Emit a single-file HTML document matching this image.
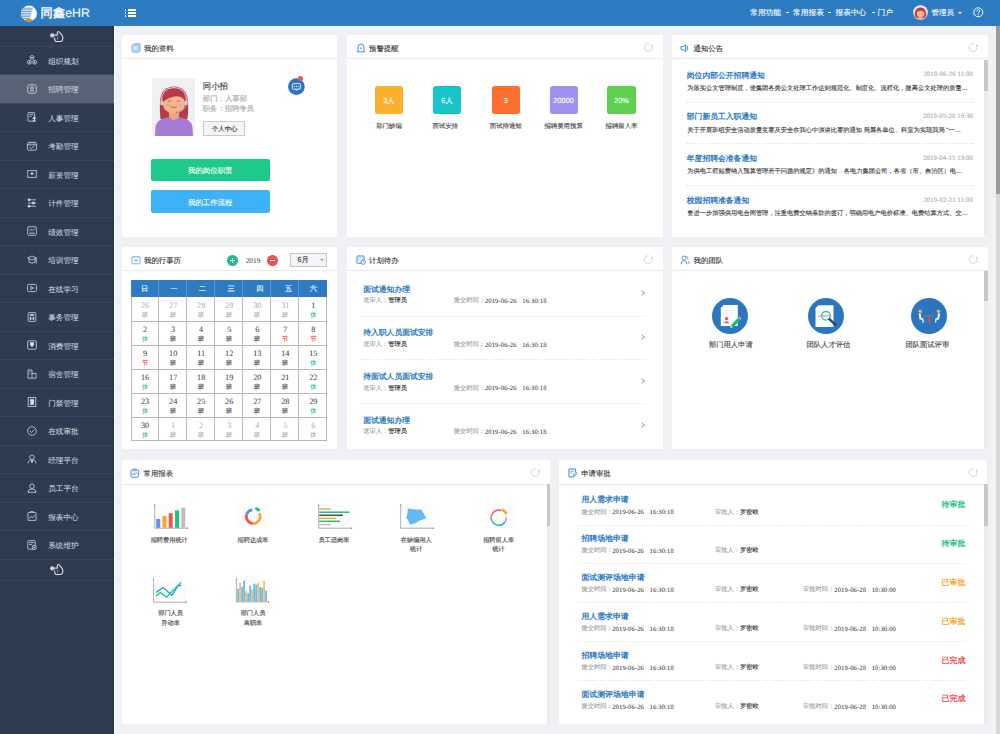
<!DOCTYPE html><html><head><meta charset="utf-8"><style>
*{margin:0;padding:0;box-sizing:border-box}
html,body{width:1000px;height:734px;overflow:hidden;background:#f0f1f5;font-family:"Liberation Sans",sans-serif;color:#333;text-rendering:geometricPrecision}
.a{position:absolute}
.t{position:absolute;white-space:nowrap;line-height:1;-webkit-text-stroke:0.12px currentColor}
.card{position:absolute;background:#fff;border-radius:2px}
.hd{position:absolute;left:0;right:0;top:0;height:24.4px;border-bottom:1px solid #ececec}
.ht{position:absolute;top:10.1px;font-size:7.4px;color:#333;line-height:1;white-space:nowrap;-webkit-text-stroke:0.12px currentColor}
.t i,.ht i{display:inline-block;width:1em;text-align:center;font-style:normal}
.rf{position:absolute;width:7px;height:7px;border:1px solid #cfcfcf;border-radius:50%;border-top-color:transparent;transform:rotate(30deg)}
</style></head><body>
<div class="a" style="left:0;top:0;width:1000px;height:26px;background:#2d7cc1"></div>
<svg class="a" style="left:20px;top:4.6px" width="18" height="18" viewBox="0 0 18 18">
<defs><clipPath id="lgc"><circle cx="9" cy="8.5" r="7.9"/></clipPath></defs>
<circle cx="9" cy="8.5" r="7.9" fill="#fff"/>
<g clip-path="url(#lgc)"><path d="M0 2.4 H13 L10.2 14 H0Z" fill="#fff"/>
<g stroke="#3f88ca" stroke-width="0.85">
<path d="M3 3.2 H12.6"/><path d="M1 4.9 H12.2"/><path d="M0.8 6.6 H11.8"/><path d="M0.8 8.3 H11.4"/><path d="M0.8 10 H11"/><path d="M1 11.7 H10.6"/><path d="M2 13.4 H10.2"/>
</g>
<path d="M13.2 2.2 L10 14.2" stroke="#d9e8f5" stroke-width=".5"/>
</g>
<path d="M4.4 15.3 Q8.7 12.4 13 15.3 Q8.7 17.7 4.4 15.3Z" fill="#f4820f"/>
</svg>
<div class="t" style="left:40.6px;top:6.6px;font-size:12.3px;color:#fff"><span style="-webkit-text-stroke:0.35px #fff"><i>同</i><i>鑫</i></span>eHR</div>
<div class="a" style="left:124.9px;top:9.1px;width:1.6px;height:1.7px;background:#fff"></div>
<div class="a" style="left:128px;top:9.1px;width:7.6px;height:1.7px;background:#fff"></div>
<div class="a" style="left:124.9px;top:12.2px;width:1.6px;height:1.7px;background:#fff"></div>
<div class="a" style="left:128px;top:12.2px;width:7.6px;height:1.7px;background:#fff"></div>
<div class="a" style="left:124.9px;top:15.2px;width:1.6px;height:1.7px;background:#fff"></div>
<div class="a" style="left:128px;top:15.2px;width:7.6px;height:1.7px;background:#fff"></div>
<div class="t" style="left:750.2px;top:8.6px;font-size:7.7px;color:#fff"><i>常</i><i>用</i><i>功</i><i>能</i></div>
<div class="t" style="left:793.1px;top:8.6px;font-size:7.7px;color:#fff"><i>常</i><i>用</i><i>报</i><i>表</i></div>
<div class="t" style="left:835.5px;top:8.6px;font-size:7.7px;color:#fff"><i>报</i><i>表</i><i>中</i><i>心</i></div>
<div class="t" style="left:877.6px;top:8.6px;font-size:7.7px;color:#fff"><i>门</i><i>户</i></div>
<div class="a" style="left:786.2px;top:12.3px;width:3px;height:0.9px;background:#fff"></div>
<div class="a" style="left:828.4px;top:12.3px;width:3px;height:0.9px;background:#fff"></div>
<div class="a" style="left:871.6px;top:12.3px;width:3px;height:0.9px;background:#fff"></div>
<svg class="a" style="left:913.4px;top:5.2px" width="15" height="15" viewBox="0 0 15 15">
<circle cx="7.5" cy="7.5" r="7.3" fill="#f6f2ee"/>
<clipPath id="avc"><circle cx="7.5" cy="7.5" r="6.6"/></clipPath>
<g clip-path="url(#avc)">
<path d="M1.4 13 Q0.8 2.4 7.5 2.2 Q14.2 2.4 13.6 13Z" fill="#bf3f49"/>
<path d="M5.6 11 H9.4 V15 H5.6Z" fill="#f0a27c"/>
<ellipse cx="7.6" cy="8.4" rx="3.9" ry="3.8" fill="#f7b58f"/>
<path d="M3.4 7.4 Q4.4 3.6 7.6 3.7 Q10.8 3.6 11.8 7.4 Q10 5.6 8 5.8 Q5 6 3.4 7.4Z" fill="#bf3f49"/>
<path d="M3 15 Q4 12.8 7.5 12.8 Q11 12.8 12 15Z" fill="#f0a27c"/>
</g></svg>
<div class="t" style="left:931.6px;top:8.6px;font-size:7.4px;color:#fff"><i>管</i><i>理</i><i>员</i></div>
<div class="a" style="left:957.5px;top:11.5px;width:0;height:0;border-left:2.3px solid transparent;border-right:2.3px solid transparent;border-top:2.5px solid #fff"></div>
<svg class="a" style="left:973px;top:7px" width="11" height="11" viewBox="0 0 11 11"><circle cx="5.3" cy="5.3" r="4.5" fill="none" stroke="#fff" stroke-width="1"/><path d="M3.8 4.3 Q3.8 2.8 5.3 2.8 Q6.8 2.8 6.8 4.1 Q6.8 4.9 5.9 5.3 Q5.3 5.6 5.3 6.4" fill="none" stroke="#fff" stroke-width="0.95"/><circle cx="5.3" cy="7.7" r="0.6" fill="#fff"/></svg>
<div class="a" style="left:0;top:26px;width:113.6px;height:708px;background:#2e3c50;border-right:1px solid #1f2c3e"></div>
<div class="a" style="left:113.6px;top:26px;width:1.4px;height:708px;background:#fff"></div>
<div class="a" style="left:0;top:46px;width:113.6px;height:1px;background:#37485e"></div>
<svg class="a" style="left:48.0px;top:29.0px" width="17" height="15" viewBox="0 0 17 15">
<circle cx="4.2" cy="6.4" r="2.1" fill="#cfd4da"/>
<path d="M5.6 6.1 H9.4" stroke="#dfe3e8" stroke-width="1.1"/>
<path d="M9.3 6.2 L9.3 3.6 Q9.7 2 11.1 2.9 L14.3 6.7 Q15.3 8.7 14.5 11 Q14.1 12.4 12.7 12.4 L8.1 12.4 Q7.1 12.4 6.9 11.2 L6.5 8.4" fill="none" stroke="#dfe3e8" stroke-width="1.05" stroke-linejoin="round"/>
<path d="M9.6 7.4 V11" stroke="#aab2bd" stroke-width=".7"/>
</svg>
<div class="a" style="left:0;top:74px;width:113.6px;height:1px;background:#37485e"></div>
<div class="t" style="left:48.2px;top:57.75px;font-size:7.6px;color:#dde1e7;-webkit-text-stroke:0"><i>组</i><i>织</i><i>规</i><i>划</i></div>
<svg class="a" style="left:27px;top:55.45px" width="10" height="10" viewBox="0 0 10 10" fill="none" stroke="#d5dae1" stroke-width="0.8"><rect x="3.2" y="0.6" width="3.6" height="3.6" rx="1.2"/><rect x="0.6" y="5.4" width="3.6" height="3.6" rx="1.2"/><rect x="5.8" y="5.4" width="3.6" height="3.6" rx="1.2"/><circle cx="5" cy="2.4" r=".5" fill="#dfe3e9"/><circle cx="2.4" cy="7.2" r=".5" fill="#dfe3e9"/><circle cx="7.6" cy="7.2" r=".5" fill="#dfe3e9"/></svg>
<div class="a" style="left:0;top:74.90px;width:113.6px;height:28.5px;background:#586475"></div>
<div class="a" style="left:0;top:103px;width:113.6px;height:1px;background:#37485e"></div>
<div class="t" style="left:48.2px;top:86.25px;font-size:7.6px;color:#dde1e7;-webkit-text-stroke:0"><i>招</i><i>聘</i><i>管</i><i>理</i></div>
<svg class="a" style="left:27px;top:83.95px" width="10" height="10" viewBox="0 0 10 10" fill="none" stroke="#d5dae1" stroke-width="0.8"><rect x="0.7" y="0.7" width="8.6" height="8.6" rx="2"/><circle cx="5" cy="4" r="1.5"/><path d="M2.6 7.6 Q5 5.2 7.4 7.6"/></svg>
<div class="a" style="left:0;top:131px;width:113.6px;height:1px;background:#37485e"></div>
<div class="t" style="left:48.2px;top:114.75px;font-size:7.6px;color:#dde1e7;-webkit-text-stroke:0"><i>人</i><i>事</i><i>管</i><i>理</i></div>
<svg class="a" style="left:27px;top:112.45px" width="10" height="10" viewBox="0 0 10 10" fill="none" stroke="#d5dae1" stroke-width="0.8"><rect x="1" y="0.6" width="6.6" height="8.6" rx=".6"/><path d="M2.6 2.6h3.4M2.6 4.4h2"/><circle cx="7.2" cy="6.2" r="1.1" fill="#dfe3e9"/><path d="M5.6 9.2 Q7.2 7 8.8 9.2" fill="#dfe3e9"/></svg>
<div class="a" style="left:0;top:160px;width:113.6px;height:1px;background:#37485e"></div>
<div class="t" style="left:48.2px;top:143.25px;font-size:7.6px;color:#dde1e7;-webkit-text-stroke:0"><i>考</i><i>勤</i><i>管</i><i>理</i></div>
<svg class="a" style="left:27px;top:140.95px" width="10" height="10" viewBox="0 0 10 10" fill="none" stroke="#d5dae1" stroke-width="0.8"><rect x="0.6" y="1.6" width="8.8" height="7.6" rx=".8"/><path d="M3 0.4v2.2M7 0.4v2.2M0.6 3.8h8.8M2.8 6.2 L4.4 7.6 L7.2 4.8"/></svg>
<div class="a" style="left:0;top:188px;width:113.6px;height:1px;background:#37485e"></div>
<div class="t" style="left:48.2px;top:171.75px;font-size:7.6px;color:#dde1e7;-webkit-text-stroke:0"><i>薪</i><i>资</i><i>管</i><i>理</i></div>
<svg class="a" style="left:27px;top:169.45px" width="10" height="10" viewBox="0 0 10 10" fill="none" stroke="#d5dae1" stroke-width="0.8"><path d="M0.6 1.6 H9.4 V3.8 Q8.4 5 9.4 6.2 V8.4 H0.6 V6.2 Q1.6 5 0.6 3.8 Z"/><path d="M3.8 4 L5 6 L6.2 4 Z" fill="#dfe3e9"/></svg>
<div class="a" style="left:0;top:217px;width:113.6px;height:1px;background:#37485e"></div>
<div class="t" style="left:48.2px;top:200.25px;font-size:7.6px;color:#dde1e7;-webkit-text-stroke:0"><i>计</i><i>件</i><i>管</i><i>理</i></div>
<svg class="a" style="left:27px;top:197.95px" width="10" height="10" viewBox="0 0 10 10" fill="none" stroke="#d5dae1" stroke-width="0.8"><path d="M1 1.8h8M1 5h8M1 8.2h8"/><circle cx="2" cy="1.8" r="1" fill="#dfe3e9"/><circle cx="6.4" cy="5" r="1" fill="#dfe3e9"/><circle cx="2" cy="8.2" r="1" fill="#dfe3e9"/></svg>
<div class="a" style="left:0;top:245px;width:113.6px;height:1px;background:#37485e"></div>
<div class="t" style="left:48.2px;top:228.75px;font-size:7.6px;color:#dde1e7;-webkit-text-stroke:0"><i>绩</i><i>效</i><i>管</i><i>理</i></div>
<svg class="a" style="left:27px;top:226.45px" width="10" height="10" viewBox="0 0 10 10" fill="none" stroke="#d5dae1" stroke-width="0.8"><rect x="0.7" y="0.7" width="8.6" height="8.6" rx="1.4"/><path d="M2.4 5 L4 3.4 L5.4 4.6 L7.6 2.6M2.4 7.2h5.2"/></svg>
<div class="a" style="left:0;top:274px;width:113.6px;height:1px;background:#37485e"></div>
<div class="t" style="left:48.2px;top:257.25px;font-size:7.6px;color:#dde1e7;-webkit-text-stroke:0"><i>培</i><i>训</i><i>管</i><i>理</i></div>
<svg class="a" style="left:27px;top:254.95px" width="10" height="10" viewBox="0 0 10 10" fill="none" stroke="#d5dae1" stroke-width="0.8"><path d="M0.5 3 L5 1 L9.5 3 L5 5 Z"/><path d="M2 3.8 V7 Q5 9.4 8 7 V3.8"/><path d="M9.2 3.2 V8.6" stroke-width="0.8"/></svg>
<div class="a" style="left:0;top:302px;width:113.6px;height:1px;background:#37485e"></div>
<div class="t" style="left:48.2px;top:285.75px;font-size:7.6px;color:#dde1e7;-webkit-text-stroke:0"><i>在</i><i>线</i><i>学</i><i>习</i></div>
<svg class="a" style="left:27px;top:283.45px" width="10" height="10" viewBox="0 0 10 10" fill="none" stroke="#d5dae1" stroke-width="0.8"><rect x="0.6" y="1.4" width="8.8" height="7.2" rx="1"/><path d="M3.8 3.4 L6.6 5 L3.8 6.6 Z"/></svg>
<div class="a" style="left:0;top:331px;width:113.6px;height:1px;background:#37485e"></div>
<div class="t" style="left:48.2px;top:314.25px;font-size:7.6px;color:#dde1e7;-webkit-text-stroke:0"><i>事</i><i>务</i><i>管</i><i>理</i></div>
<svg class="a" style="left:27px;top:311.95px" width="10" height="10" viewBox="0 0 10 10" fill="none" stroke="#d5dae1" stroke-width="0.8"><rect x="1.2" y="0.6" width="7.6" height="8.8" rx=".8"/><rect x="2.8" y="2.2" width="4.4" height="1.6" fill="#dfe3e9" stroke="none"/><rect x="2.8" y="5" width="1.6" height="2.8" fill="#dfe3e9" stroke="none"/><rect x="5.6" y="5" width="1.6" height="2.8" fill="#dfe3e9" stroke="none"/></svg>
<div class="a" style="left:0;top:359px;width:113.6px;height:1px;background:#37485e"></div>
<div class="t" style="left:48.2px;top:342.75px;font-size:7.6px;color:#dde1e7;-webkit-text-stroke:0"><i>消</i><i>费</i><i>管</i><i>理</i></div>
<svg class="a" style="left:27px;top:340.45px" width="10" height="10" viewBox="0 0 10 10" fill="none" stroke="#d5dae1" stroke-width="0.8"><rect x="0.7" y="0.8" width="8.6" height="8.4" rx=".8"/><path d="M3.4 2.6 H6.6 V5 L5 6.8 L3.4 5 Z" fill="#dfe3e9"/></svg>
<div class="a" style="left:0;top:388px;width:113.6px;height:1px;background:#37485e"></div>
<div class="t" style="left:48.2px;top:371.25px;font-size:7.6px;color:#dde1e7;-webkit-text-stroke:0"><i>宿</i><i>舍</i><i>管</i><i>理</i></div>
<svg class="a" style="left:27px;top:368.95px" width="10" height="10" viewBox="0 0 10 10" fill="none" stroke="#d5dae1" stroke-width="0.8"><path d="M1 9.2 V1 H5 V9.2 M5 4.4 H9 V9.2 H1"/><path d="M2.4 2.8h1.2M2.4 4.8h1.2"/></svg>
<div class="a" style="left:0;top:416px;width:113.6px;height:1px;background:#37485e"></div>
<div class="t" style="left:48.2px;top:399.75px;font-size:7.6px;color:#dde1e7;-webkit-text-stroke:0"><i>门</i><i>禁</i><i>管</i><i>理</i></div>
<svg class="a" style="left:27px;top:397.45px" width="10" height="10" viewBox="0 0 10 10" fill="none" stroke="#d5dae1" stroke-width="0.8"><rect x="1.2" y="0.6" width="7.6" height="8.8"/><path d="M3.4 2.4 H6.6 V7.6 H3.4 V5.8 L4.6 5 L3.4 4.2 Z" fill="#dfe3e9"/></svg>
<div class="a" style="left:0;top:445px;width:113.6px;height:1px;background:#37485e"></div>
<div class="t" style="left:48.2px;top:428.25px;font-size:7.6px;color:#dde1e7;-webkit-text-stroke:0"><i>在</i><i>线</i><i>审</i><i>批</i></div>
<svg class="a" style="left:27px;top:425.95px" width="10" height="10" viewBox="0 0 10 10" fill="none" stroke="#d5dae1" stroke-width="0.8"><circle cx="5" cy="5" r="4.3"/><path d="M3 5 L4.5 6.5 L7.2 3.6"/></svg>
<div class="a" style="left:0;top:473px;width:113.6px;height:1px;background:#37485e"></div>
<div class="t" style="left:48.2px;top:456.75px;font-size:7.6px;color:#dde1e7;-webkit-text-stroke:0"><i>经</i><i>理</i><i>平</i><i>台</i></div>
<svg class="a" style="left:27px;top:454.45px" width="10" height="10" viewBox="0 0 10 10" fill="none" stroke="#d5dae1" stroke-width="0.8"><circle cx="5" cy="3.2" r="2.3"/><path d="M0.8 9.4 Q1.4 5.8 4 5.6 M9.2 9.4 Q8.6 5.8 6 5.6"/><path d="M4.4 6.4 L5 9 L5.6 6.4 Z" fill="#dfe3e9"/></svg>
<div class="a" style="left:0;top:502px;width:113.6px;height:1px;background:#37485e"></div>
<div class="t" style="left:48.2px;top:485.25px;font-size:7.6px;color:#dde1e7;-webkit-text-stroke:0"><i>员</i><i>工</i><i>平</i><i>台</i></div>
<svg class="a" style="left:27px;top:482.95px" width="10" height="10" viewBox="0 0 10 10" fill="none" stroke="#d5dae1" stroke-width="0.8"><circle cx="5" cy="3.2" r="2.3"/><path d="M1 9.3 Q1 5.8 5 5.8 Q9 5.8 9 9.3 Z"/></svg>
<div class="a" style="left:0;top:530px;width:113.6px;height:1px;background:#37485e"></div>
<div class="t" style="left:48.2px;top:513.75px;font-size:7.6px;color:#dde1e7;-webkit-text-stroke:0"><i>报</i><i>表</i><i>中</i><i>心</i></div>
<svg class="a" style="left:27px;top:511.45px" width="10" height="10" viewBox="0 0 10 10" fill="none" stroke="#d5dae1" stroke-width="0.8"><rect x="1" y="1.4" width="8" height="8" rx=".8"/><path d="M3.4 1.4 V0.6 H6.6 V1.4"/><path d="M2.4 7.6 L4.2 5.4 L5.6 6.6 L7.8 4"/></svg>
<div class="a" style="left:0;top:559px;width:113.6px;height:1px;background:#37485e"></div>
<div class="t" style="left:48.2px;top:542.25px;font-size:7.6px;color:#dde1e7;-webkit-text-stroke:0"><i>系</i><i>统</i><i>维</i><i>护</i></div>
<svg class="a" style="left:27px;top:539.95px" width="10" height="10" viewBox="0 0 10 10" fill="none" stroke="#d5dae1" stroke-width="0.8"><rect x="0.8" y="0.6" width="7.4" height="8.6" rx=".8"/><path d="M2.2 2.6h4.6M2.2 4.6h3"/><circle cx="7.2" cy="7.4" r="2.1" fill="#2e3c50"/><circle cx="7.2" cy="7.4" r=".7"/></svg>
<svg class="a" style="left:48.0px;top:562.1px" width="17" height="15" viewBox="0 0 17 15">
<circle cx="4.2" cy="6.4" r="2.1" fill="#cfd4da"/>
<path d="M5.6 6.1 H9.4" stroke="#dfe3e8" stroke-width="1.1"/>
<path d="M9.3 6.2 L9.3 3.6 Q9.7 2 11.1 2.9 L14.3 6.7 Q15.3 8.7 14.5 11 Q14.1 12.4 12.7 12.4 L8.1 12.4 Q7.1 12.4 6.9 11.2 L6.5 8.4" fill="none" stroke="#dfe3e8" stroke-width="1.05" stroke-linejoin="round"/>
<path d="M9.6 7.4 V11" stroke="#aab2bd" stroke-width=".7"/>
</svg>
<div class="a" style="left:0;top:579.80px;width:113.6px;height:1px;background:#37485e"></div>
<div class="card" style="left:122px;top:35px;width:215px;height:202px"><div class="hd"></div><div class="ht" style="left:22px"><i>我</i><i>的</i><i>资</i><i>料</i></div><svg class="a" style="left:8.6px;top:7.6px" width="10" height="10" viewBox="0 0 10 10" fill="none" stroke="#5a9ad6" stroke-width="1"><rect x="1" y="1.6" width="7.4" height="7.6" rx="1" fill="#b9d7f2" stroke="#8cbbe6"/><path d="M2.6 1.6 L3.6 0.6 H9.2 V7.6 L8.4 8.4" stroke="#8cbbe6"/><path d="M3.4 4.2 L5.8 6.4 M3.6 6.8 L3.4 4.2 L6 4.4" stroke="#fff" stroke-width=".8"/></svg></div>
<div class="card" style="left:347px;top:35px;width:315.5px;height:202px"><div class="hd"></div><div class="ht" style="left:22px"><i>预</i><i>警</i><i>提</i><i>醒</i></div><svg class="a" style="left:8.6px;top:7.6px" width="10" height="10" viewBox="0 0 10 10" fill="none" stroke="#5a9ad6" stroke-width="1"><path d="M2 8.6 V4.6 Q2 1 5 1 Q8 1 8 4.6 V8.6" stroke="#4a8fd0"/><path d="M0.8 8.8 H9.2" stroke="#4a8fd0"/><path d="M5 3.6 Q6.2 5.4 5 7 Q3.8 5.4 5 3.6Z" fill="#3b86cc" stroke="none"/></svg><svg class="a" style="left:295.9px;top:7.8px" width="11" height="10" viewBox="0 0 11 10"><path d="M8.58 2.65 A3.9 3.9 0 1 1 5.88 0.76" fill="none" stroke="#d6d6d6" stroke-width="1"/><path d="M7.6 2.3 L9.7 1.4 L9.3 3.7 Z" fill="#c4c4c4"/></svg></div>
<div class="card" style="left:671.5px;top:35px;width:316.0px;height:202px"><div class="hd"></div><div class="ht" style="left:22px"><i>通</i><i>知</i><i>公</i><i>告</i></div><svg class="a" style="left:8.6px;top:7.6px" width="10" height="10" viewBox="0 0 10 10" fill="none" stroke="#5a9ad6" stroke-width="1"><path d="M1 3.6 H3.2 L5.6 1.8 V8.6 L3.2 6.8 H1 Z" stroke="#4a8fd0"/><path d="M7 2.6 Q8.6 5.2 7 7.8 Z" fill="#5aa2e0" stroke="#5aa2e0" stroke-width=".6"/></svg><svg class="a" style="left:296.4px;top:7.8px" width="11" height="10" viewBox="0 0 11 10"><path d="M8.58 2.65 A3.9 3.9 0 1 1 5.88 0.76" fill="none" stroke="#d6d6d6" stroke-width="1"/><path d="M7.6 2.3 L9.7 1.4 L9.3 3.7 Z" fill="#c4c4c4"/></svg></div>
<div class="card" style="left:122px;top:247px;width:215px;height:202px"><div class="hd"></div><div class="ht" style="left:22px"><i>我</i><i>的</i><i>行</i><i>事</i><i>历</i></div><svg class="a" style="left:8.6px;top:7.6px" width="10" height="10" viewBox="0 0 10 10" fill="none" stroke="#5a9ad6" stroke-width="1"><rect x="0.9" y="1.8" width="8.2" height="7" rx="1" stroke="#7fb0e0"/><path d="M2.8 0.8 V2.6 M7.2 0.8 V2.6" stroke="#7fb0e0"/><rect x="2.9" y="4.2" width="4.2" height="2.4" fill="#a8cdee" stroke="none"/></svg></div>
<div class="card" style="left:347px;top:247px;width:315.5px;height:202px"><div class="hd"></div><div class="ht" style="left:22px"><i>计</i><i>划</i><i>待</i><i>办</i></div><svg class="a" style="left:8.6px;top:7.6px" width="10" height="10" viewBox="0 0 10 10" fill="none" stroke="#5a9ad6" stroke-width="1"><rect x="0.9" y="0.9" width="7.2" height="7.6" rx=".8" fill="#d4e7f8" stroke="#5a9ad6"/><path d="M2.2 7.4 L6.4 2.4" stroke="#fff" stroke-width=".9"/><circle cx="7.2" cy="7.2" r="2.2" fill="#fff" stroke="#5a9ad6"/><path d="M7.2 6.1 V7.3 H8" stroke="#5a9ad6" stroke-width=".6"/></svg><svg class="a" style="left:295.9px;top:7.8px" width="11" height="10" viewBox="0 0 11 10"><path d="M8.58 2.65 A3.9 3.9 0 1 1 5.88 0.76" fill="none" stroke="#d6d6d6" stroke-width="1"/><path d="M7.6 2.3 L9.7 1.4 L9.3 3.7 Z" fill="#c4c4c4"/></svg></div>
<div class="card" style="left:671.5px;top:247px;width:316.0px;height:202px"><div class="hd"></div><div class="ht" style="left:22px"><i>我</i><i>的</i><i>团</i><i>队</i></div><svg class="a" style="left:8.6px;top:7.6px" width="10" height="10" viewBox="0 0 10 10" fill="none" stroke="#5a9ad6" stroke-width="1"><circle cx="4" cy="3" r="2" stroke="#5a9ad6"/><path d="M0.8 9.2 Q1 5.6 4 5.6 Q7 5.6 7.2 9.2" stroke="#5a9ad6"/><path d="M6.4 1.4 Q8.4 1.8 7.8 4.4 M8 5.8 Q9.2 6.6 9.3 9" stroke="#5a9ad6" stroke-width=".9"/></svg><svg class="a" style="left:296.4px;top:7.8px" width="11" height="10" viewBox="0 0 11 10"><path d="M8.58 2.65 A3.9 3.9 0 1 1 5.88 0.76" fill="none" stroke="#d6d6d6" stroke-width="1"/><path d="M7.6 2.3 L9.7 1.4 L9.3 3.7 Z" fill="#c4c4c4"/></svg></div>
<div class="card" style="left:121.5px;top:460.3px;width:428.1px;height:263.90000000000003px"><div class="hd"></div><div class="ht" style="left:22px"><i>常</i><i>用</i><i>报</i><i>表</i></div><svg class="a" style="left:8.6px;top:7.6px" width="10" height="10" viewBox="0 0 10 10" fill="none" stroke="#5a9ad6" stroke-width="1"><rect x="1" y="1.8" width="7.6" height="7.6" rx="1" fill="#eaf3fc" stroke="#5a9ad6"/><path d="M3.2 2.4 V1 H6.4 V2.4 Z" fill="#fff" stroke="#5a9ad6"/><path d="M2.6 7 L4 5.4 L5.2 6.4 L6.8 4.6" stroke="#3c7fc4" stroke-width=".8"/></svg><svg class="a" style="left:408.5px;top:7.8px" width="11" height="10" viewBox="0 0 11 10"><path d="M8.58 2.65 A3.9 3.9 0 1 1 5.88 0.76" fill="none" stroke="#d6d6d6" stroke-width="1"/><path d="M7.6 2.3 L9.7 1.4 L9.3 3.7 Z" fill="#c4c4c4"/></svg></div>
<div class="card" style="left:559.2px;top:460.3px;width:428.29999999999995px;height:263.90000000000003px"><div class="hd"></div><div class="ht" style="left:22px"><i>申</i><i>请</i><i>审</i><i>批</i></div><svg class="a" style="left:8.6px;top:7.6px" width="10" height="10" viewBox="0 0 10 10" fill="none" stroke="#5a9ad6" stroke-width="1"><path d="M1 1 H7.6 V4.2 M1 1 V9 H4.2" stroke="#3b86cc"/><path d="M2.6 3.2 H5.8 M2.6 5 H4.2" stroke="#3b86cc" stroke-width=".8"/><path d="M5 9.2 L5.4 6.8 L8.2 4.2 L9.4 5.4 L6.6 8.2 Z" fill="#cfe3f6" stroke="#3b86cc" stroke-width=".8"/></svg><svg class="a" style="left:408.7px;top:7.8px" width="11" height="10" viewBox="0 0 11 10"><path d="M8.58 2.65 A3.9 3.9 0 1 1 5.88 0.76" fill="none" stroke="#d6d6d6" stroke-width="1"/><path d="M7.6 2.3 L9.7 1.4 L9.3 3.7 Z" fill="#c4c4c4"/></svg></div>
<svg class="a" style="left:151.6px;top:78px" width="43.6" height="58" viewBox="0 0 43.6 58">
<rect x="0" y="0" width="43.6" height="58" rx="3" fill="#eef0f4"/>
<path d="M8.5 41 Q6.5 22 10 15 Q14 8.5 22 8.5 Q30 8.5 34 15 Q37.5 22 35.5 41 Z" fill="#b83a4a"/>
<path d="M17 33 L17 42 L22 46 L27 42 L27 33 Z" fill="#f2a47e"/>
<ellipse cx="22" cy="25.7" rx="11" ry="9.8" fill="#f6b48e"/>
<path d="M10.6 24.5 Q11.5 12.5 22 12 Q32.5 12.5 33.4 24 Q31 18.5 25 18.2 Q17 18.4 10.6 24.5Z" fill="#b83a4a"/>
<path d="M9.5 24 Q9 10 22 9.5 Q35 10 34.5 24" fill="none" stroke="#e9e4e4" stroke-width="0.9"/>
<ellipse cx="9.8" cy="25" rx="1.6" ry="2.4" fill="#cfd6d6"/>
<ellipse cx="34.2" cy="25" rx="1.6" ry="2.4" fill="#cfd6d6"/>
<path d="M34 27 Q33 33 25 34.5" fill="none" stroke="#8aa3a6" stroke-width="0.7"/>
<circle cx="24.5" cy="34.5" r="1" fill="#5f9ca3"/>
<path d="M16 23.5 Q17.5 22 19 23.5 M25 23.5 Q26.5 22 28 23.5" fill="none" stroke="#7a4a3a" stroke-width="0.6"/>
<path d="M19 28.5 Q22 31 25 28.5" fill="none" stroke="#a3403a" stroke-width="0.7"/>
<ellipse cx="15.5" cy="27" rx="1.8" ry="1.1" fill="#f29b86" opacity=".7"/>
<ellipse cx="28.5" cy="27" rx="1.8" ry="1.1" fill="#f29b86" opacity=".7"/>
<path d="M3 58 L3.5 49 Q4.5 42 13 40 L17 39 Q22 45 27 39 L31 40 Q39.5 42 40.5 49 L41 58 Z" fill="#a67cd2"/>
</svg>
<div class="t" style="left:202.8px;top:81.8px;font-size:8.4px;color:#333"><i>同</i><i>小</i><i>招</i></div>
<div class="t" style="left:202.8px;top:95.2px;font-size:7.4px;color:#a8a8a8"><i>部</i><i>门</i><i>：</i><i>人</i><i>事</i><i>部</i></div>
<div class="t" style="left:202.8px;top:104.8px;font-size:7.3px;color:#a8a8a8"><i>职</i><i>务</i><i>：</i><i>招</i><i>聘</i><i>专</i><i>员</i></div>
<div class="a" style="left:202.8px;top:121.4px;width:42.4px;height:14.4px;border:1px solid #c9c9c9;background:#f3f4f7"></div>
<div class="t" style="left:211.8px;top:127.3px;font-size:6.45px;color:#222"><i>个</i><i>人</i><i>中</i><i>心</i></div>
<svg class="a" style="left:287px;top:75px" width="18" height="21" viewBox="0 0 18 21">
<circle cx="9.4" cy="11.6" r="8.4" fill="#2a76bf"/>
<rect x="5.4" y="8.6" width="8" height="5.6" rx="1" fill="none" stroke="#fff" stroke-width="0.9"/>
<path d="M8.6 14.2 L9.4 15.4 L10.2 14.2" fill="none" stroke="#fff" stroke-width="0.8"/>
<circle cx="7.6" cy="11.4" r=".55" fill="#fff"/><circle cx="9.4" cy="11.4" r=".55" fill="#fff"/><circle cx="11.2" cy="11.4" r=".55" fill="#fff"/>
<circle cx="13.4" cy="3.6" r="2.6" fill="#f3535a"/>
</svg>
<div class="a" style="left:150.5px;top:158.6px;width:119.5px;height:22.8px;background:#1ec98c;border-radius:2px"></div>
<div class="t" style="left:150.5px;width:119.5px;text-align:center;top:167.4px;font-size:7.4px;color:#fff"><i>我</i><i>的</i><i>岗</i><i>位</i><i>职</i><i>责</i></div>
<div class="a" style="left:150.5px;top:190px;width:119.5px;height:22.7px;background:#3db2f7;border-radius:2px"></div>
<div class="t" style="left:150.5px;width:119.5px;text-align:center;top:198.7px;font-size:7.4px;color:#fff"><i>我</i><i>的</i><i>工</i><i>作</i><i>流</i><i>程</i></div>
<div class="a" style="left:374.9px;top:86.4px;width:28.2px;height:28px;background:#fbb02d;border-radius:2.5px"></div>
<div class="t" style="left:364.9px;width:48.2px;text-align:center;top:97.2px;font-size:7.4px;color:#fff">3<i>人</i></div>
<div class="t" style="left:358.9px;width:60.2px;text-align:center;top:124.4px;font-size:6.4px;color:#444"><i>部</i><i>门</i><i>缺</i><i>编</i></div>
<div class="a" style="left:433px;top:86.4px;width:28.2px;height:28px;background:#17c4c9;border-radius:2.5px"></div>
<div class="t" style="left:423px;width:48.2px;text-align:center;top:97.2px;font-size:7.4px;color:#fff">6<i>人</i></div>
<div class="t" style="left:415.3px;width:60.2px;text-align:center;top:124.4px;font-size:6.4px;color:#444"><i>面</i><i>试</i><i>安</i><i>排</i></div>
<div class="a" style="left:491.7px;top:86.4px;width:28.2px;height:28px;background:#fd6f2e;border-radius:2.5px"></div>
<div class="t" style="left:481.7px;width:48.2px;text-align:center;top:97.2px;font-size:7.4px;color:#fff">3</div>
<div class="t" style="left:475.7px;width:60.2px;text-align:center;top:124.4px;font-size:6.4px;color:#444"><i>面</i><i>试</i><i>待</i><i>通</i><i>知</i></div>
<div class="a" style="left:549.5px;top:86.4px;width:28.2px;height:28px;background:#a08ff0;border-radius:2.5px"></div>
<div class="t" style="left:539.5px;width:48.2px;text-align:center;top:97.2px;font-size:7.4px;color:#fff">20000</div>
<div class="t" style="left:533.5px;width:60.2px;text-align:center;top:124.4px;font-size:6.4px;color:#444"><i>招</i><i>聘</i><i>费</i><i>用</i><i>预</i><i>算</i></div>
<div class="a" style="left:607.4px;top:86.4px;width:28.2px;height:28px;background:#5fcf4f;border-radius:2.5px"></div>
<div class="t" style="left:597.4px;width:48.2px;text-align:center;top:97.2px;font-size:7.4px;color:#fff">20%</div>
<div class="t" style="left:591.4px;width:60.2px;text-align:center;top:124.4px;font-size:6.4px;color:#444"><i>招</i><i>聘</i><i>留</i><i>人</i><i>率</i></div>
<div class="t" style="left:686.8px;top:71.5px;font-size:7.8px;color:#2a78c2;font-weight:bold;-webkit-text-stroke:0"><i>岗</i><i>位</i><i>内</i><i>部</i><i>公</i><i>开</i><i>招</i><i>聘</i><i>通</i><i>知</i></div>
<div class="t" style="right:27px;top:72.2px;font-size:6.6px;letter-spacing:0.15px;font-family:Liberation Serif,serif;color:#a8a8a8">2019-06-26 11:00</div>
<div class="t" style="left:687.3px;top:85.7px;font-size:6.24px;color:#3a3a3a"><i>为</i><i>落</i><i>实</i><i>公</i><i>文</i><i>管</i><i>理</i><i>制</i><i>度</i><i>，</i><i>使</i><i>集</i><i>团</i><i>各</i><i>类</i><i>公</i><i>文</i><i>处</i><i>理</i><i>工</i><i>作</i><i>达</i><i>到</i><i>规</i><i>范</i><i>化</i><i>、</i><i>制</i><i>度</i><i>化</i><i>、</i><i>流</i><i>程</i><i>化</i><i>，</i><i>提</i><i>高</i><i>公</i><i>文</i><i>处</i><i>理</i><i>的</i><i>质</i><i>量</i>…</div>
<div class="a" style="left:686px;top:101.5px;width:288px;height:1px;background:repeating-linear-gradient(90deg,#e6e6e6 0 1.5px,transparent 1.5px 2.7px)"></div>
<div class="t" style="left:686.8px;top:113.3px;font-size:7.8px;color:#2a78c2;font-weight:bold;-webkit-text-stroke:0"><i>部</i><i>门</i><i>新</i><i>员</i><i>工</i><i>入</i><i>职</i><i>通</i><i>知</i></div>
<div class="t" style="right:27px;top:114.0px;font-size:6.6px;letter-spacing:0.15px;font-family:Liberation Serif,serif;color:#a8a8a8">2019-05-20 10:30</div>
<div class="t" style="left:687.3px;top:127.5px;font-size:6.24px;color:#3a3a3a"><i>关</i><i>于</i><i>开</i><i>展</i><i>班</i><i>组</i><i>安</i><i>全</i><i>活</i><i>动</i><i>质</i><i>量</i><i>竞</i><i>赛</i><i>及</i><i>安</i><i>全</i><i>在</i><i>我</i><i>心</i><i>中</i><i>演</i><i>讲</i><i>比</i><i>赛</i><i>的</i><i>通</i><i>知</i> <i>局</i><i>属</i><i>各</i><i>单</i><i>位</i><i>、</i><i>科</i><i>室</i><i>为</i><i>实</i><i>现</i><i>我</i><i>局</i> "<i>一</i>…</div>
<div class="a" style="left:686px;top:143.3px;width:288px;height:1px;background:repeating-linear-gradient(90deg,#e6e6e6 0 1.5px,transparent 1.5px 2.7px)"></div>
<div class="t" style="left:686.8px;top:155.1px;font-size:7.8px;color:#2a78c2;font-weight:bold;-webkit-text-stroke:0"><i>年</i><i>度</i><i>招</i><i>聘</i><i>会</i><i>准</i><i>备</i><i>通</i><i>知</i></div>
<div class="t" style="right:27px;top:155.8px;font-size:6.6px;letter-spacing:0.15px;font-family:Liberation Serif,serif;color:#a8a8a8">2019-04-15 13:00</div>
<div class="t" style="left:687.3px;top:169.3px;font-size:6.24px;color:#3a3a3a"><i>为</i><i>供</i><i>电</i><i>工</i><i>程</i><i>贴</i><i>费</i><i>纳</i><i>入</i><i>预</i><i>算</i><i>管</i><i>理</i><i>若</i><i>干</i><i>问</i><i>题</i><i>的</i><i>规</i><i>定</i><i>》</i><i>的</i><i>通</i><i>知</i> &nbsp; &nbsp;<i>各</i><i>电</i><i>力</i><i>集</i><i>团</i><i>公</i><i>司</i><i>，</i><i>各</i><i>省</i><i>（</i><i>市</i><i>、</i><i>自</i><i>治</i><i>区</i><i>）</i><i>电</i>…</div>
<div class="a" style="left:686px;top:185.1px;width:288px;height:1px;background:repeating-linear-gradient(90deg,#e6e6e6 0 1.5px,transparent 1.5px 2.7px)"></div>
<div class="t" style="left:686.8px;top:196.9px;font-size:7.8px;color:#2a78c2;font-weight:bold;-webkit-text-stroke:0"><i>校</i><i>园</i><i>招</i><i>聘</i><i>准</i><i>备</i><i>通</i><i>知</i></div>
<div class="t" style="right:27px;top:197.6px;font-size:6.6px;letter-spacing:0.15px;font-family:Liberation Serif,serif;color:#a8a8a8">2019-02-21 11:00</div>
<div class="t" style="left:687.3px;top:211.1px;font-size:6.24px;color:#3a3a3a"><i>要</i><i>进</i><i>一</i><i>步</i><i>加</i><i>强</i><i>供</i><i>用</i><i>电</i><i>合</i><i>同</i><i>管</i><i>理</i><i>，</i><i>注</i><i>重</i><i>电</i><i>费</i><i>交</i><i>纳</i><i>条</i><i>款</i><i>的</i><i>签</i><i>订</i><i>，</i><i>明</i><i>确</i><i>用</i><i>电</i><i>户</i><i>电</i><i>价</i><i>标</i><i>准</i><i>、</i><i>电</i><i>费</i><i>结</i><i>算</i><i>方</i><i>式</i><i>、</i><i>交</i>…</div>
<div class="a" style="left:984.1px;top:59.8px;width:3.6px;height:176px;background:#ececec"></div>
<div class="a" style="left:984.1px;top:59.8px;width:3.6px;height:31.2px;background:#c6c6c6"></div>
<div class="a" style="left:227.4px;top:255.2px;width:10.6px;height:10.6px;border-radius:50%;background:#1fbf84"></div>
<div class="a" style="left:229.9px;top:259.8px;width:5.6px;height:1.4px;background:#fff"></div>
<div class="a" style="left:232px;top:257.7px;width:1.4px;height:5.6px;background:#fff"></div>
<div class="t" style="left:245.7px;top:257px;font-size:7.3px;color:#333;font-family:Liberation Serif,serif;-webkit-text-stroke:0">2019</div>
<div class="a" style="left:267.1px;top:255.2px;width:10.6px;height:10.6px;border-radius:50%;background:#f0504f"></div>
<div class="a" style="left:269.6px;top:259.8px;width:5.6px;height:1.4px;background:#fff"></div>
<div class="a" style="left:290.4px;top:253.3px;width:37px;height:13.6px;border:1px solid #c6c6c6;background:#f4f5f8"></div>
<div class="t" style="left:297.4px;top:256.4px;font-size:7.3px;color:#333">6<i>月</i></div>
<div class="a" style="left:319.6px;top:259.3px;width:0;height:0;border-left:2px solid transparent;border-right:2px solid transparent;border-top:2.2px solid #999"></div>
<div class="a" style="left:130.5px;top:279.8px;width:196.21px;height:17.4px;background:#2d7bc2"></div>
<div class="t" style="left:130.50px;width:28.03px;text-align:center;top:285.0px;font-size:7.2px;color:#fff"><i>日</i></div>
<div class="t" style="left:160.13px;width:28.03px;text-align:center;top:285.0px;font-size:7.2px;color:#fff"><i>一</i></div>
<div class="a" style="left:158.03px;top:279.8px;width:1px;height:17.4px;background:#5f97cc"></div>
<div class="t" style="left:188.26px;width:28.03px;text-align:center;top:285.0px;font-size:7.2px;color:#fff"><i>二</i></div>
<div class="a" style="left:186.06px;top:279.8px;width:1px;height:17.4px;background:#5f97cc"></div>
<div class="t" style="left:217.09px;width:28.03px;text-align:center;top:285.0px;font-size:7.2px;color:#fff"><i>三</i></div>
<div class="a" style="left:214.09px;top:279.8px;width:1px;height:17.4px;background:#5f97cc"></div>
<div class="t" style="left:245.82px;width:28.03px;text-align:center;top:285.0px;font-size:7.2px;color:#fff"><i>四</i></div>
<div class="a" style="left:242.12px;top:279.8px;width:1px;height:17.4px;background:#5f97cc"></div>
<div class="t" style="left:274.65px;width:28.03px;text-align:center;top:285.0px;font-size:7.2px;color:#fff"><i>五</i></div>
<div class="a" style="left:270.15px;top:279.8px;width:1px;height:17.4px;background:#5f97cc"></div>
<div class="t" style="left:299.38px;width:28.03px;text-align:center;top:285.0px;font-size:7.2px;color:#fff"><i>六</i></div>
<div class="a" style="left:298.18px;top:279.8px;width:1px;height:17.4px;background:#5f97cc"></div>
<div class="a" style="left:130.5px;top:297.2px;width:196.21px;height:144px;border:1px solid #b8b8b8;border-top:none"></div>
<div class="a" style="left:130.5px;top:320.7px;width:196.21px;height:1px;background:#b8b8b8"></div>
<div class="a" style="left:130.5px;top:344.7px;width:196.21px;height:1px;background:#b8b8b8"></div>
<div class="a" style="left:130.5px;top:368.7px;width:196.21px;height:1px;background:#b8b8b8"></div>
<div class="a" style="left:130.5px;top:392.7px;width:196.21px;height:1px;background:#b8b8b8"></div>
<div class="a" style="left:130.5px;top:416.7px;width:196.21px;height:1px;background:#b8b8b8"></div>
<div class="a" style="left:158.03px;top:297.2px;width:1px;height:144px;background:#b8b8b8"></div>
<div class="a" style="left:186.06px;top:297.2px;width:1px;height:144px;background:#b8b8b8"></div>
<div class="a" style="left:214.09px;top:297.2px;width:1px;height:144px;background:#b8b8b8"></div>
<div class="a" style="left:242.12px;top:297.2px;width:1px;height:144px;background:#b8b8b8"></div>
<div class="a" style="left:270.15px;top:297.2px;width:1px;height:144px;background:#b8b8b8"></div>
<div class="a" style="left:298.18px;top:297.2px;width:1px;height:144px;background:#b8b8b8"></div>
<div class="t" style="left:131.10px;width:28.03px;text-align:center;top:302.2px;font-size:8.2px;color:#aaa;-webkit-text-stroke:0;font-family:'Liberation Serif',serif">26</div>
<div class="t" style="left:131.10px;width:28.03px;text-align:center;top:312.7px;font-size:6.3px;color:#aaa"><i>班</i></div>
<div class="t" style="left:159.13px;width:28.03px;text-align:center;top:302.2px;font-size:8.2px;color:#aaa;-webkit-text-stroke:0;font-family:'Liberation Serif',serif">27</div>
<div class="t" style="left:159.13px;width:28.03px;text-align:center;top:312.7px;font-size:6.3px;color:#aaa"><i>班</i></div>
<div class="t" style="left:187.16px;width:28.03px;text-align:center;top:302.2px;font-size:8.2px;color:#aaa;-webkit-text-stroke:0;font-family:'Liberation Serif',serif">28</div>
<div class="t" style="left:187.16px;width:28.03px;text-align:center;top:312.7px;font-size:6.3px;color:#aaa"><i>班</i></div>
<div class="t" style="left:215.19px;width:28.03px;text-align:center;top:302.2px;font-size:8.2px;color:#aaa;-webkit-text-stroke:0;font-family:'Liberation Serif',serif">29</div>
<div class="t" style="left:215.19px;width:28.03px;text-align:center;top:312.7px;font-size:6.3px;color:#aaa"><i>班</i></div>
<div class="t" style="left:243.22px;width:28.03px;text-align:center;top:302.2px;font-size:8.2px;color:#aaa;-webkit-text-stroke:0;font-family:'Liberation Serif',serif">30</div>
<div class="t" style="left:243.22px;width:28.03px;text-align:center;top:312.7px;font-size:6.3px;color:#aaa"><i>班</i></div>
<div class="t" style="left:271.25px;width:28.03px;text-align:center;top:302.2px;font-size:8.2px;color:#aaa;-webkit-text-stroke:0;font-family:'Liberation Serif',serif">31</div>
<div class="t" style="left:271.25px;width:28.03px;text-align:center;top:312.7px;font-size:6.3px;color:#aaa"><i>班</i></div>
<div class="t" style="left:299.28px;width:28.03px;text-align:center;top:302.2px;font-size:8.2px;color:#333;-webkit-text-stroke:0;font-family:'Liberation Serif',serif">1</div>
<div class="t" style="left:299.28px;width:28.03px;text-align:center;top:312.7px;font-size:6.3px;color:#1dbf84"><i>休</i></div>
<div class="t" style="left:131.10px;width:28.03px;text-align:center;top:326.2px;font-size:8.2px;color:#333;-webkit-text-stroke:0;font-family:'Liberation Serif',serif">2</div>
<div class="t" style="left:131.10px;width:28.03px;text-align:center;top:336.7px;font-size:6.3px;color:#1dbf84"><i>休</i></div>
<div class="t" style="left:159.13px;width:28.03px;text-align:center;top:326.2px;font-size:8.2px;color:#333;-webkit-text-stroke:0;font-family:'Liberation Serif',serif">3</div>
<div class="t" style="left:159.13px;width:28.03px;text-align:center;top:336.7px;font-size:6.3px;color:#333"><i>班</i></div>
<div class="t" style="left:187.16px;width:28.03px;text-align:center;top:326.2px;font-size:8.2px;color:#333;-webkit-text-stroke:0;font-family:'Liberation Serif',serif">4</div>
<div class="t" style="left:187.16px;width:28.03px;text-align:center;top:336.7px;font-size:6.3px;color:#333"><i>班</i></div>
<div class="t" style="left:215.19px;width:28.03px;text-align:center;top:326.2px;font-size:8.2px;color:#333;-webkit-text-stroke:0;font-family:'Liberation Serif',serif">5</div>
<div class="t" style="left:215.19px;width:28.03px;text-align:center;top:336.7px;font-size:6.3px;color:#333"><i>班</i></div>
<div class="t" style="left:243.22px;width:28.03px;text-align:center;top:326.2px;font-size:8.2px;color:#333;-webkit-text-stroke:0;font-family:'Liberation Serif',serif">6</div>
<div class="t" style="left:243.22px;width:28.03px;text-align:center;top:336.7px;font-size:6.3px;color:#333"><i>班</i></div>
<div class="t" style="left:271.25px;width:28.03px;text-align:center;top:326.2px;font-size:8.2px;color:#333;-webkit-text-stroke:0;font-family:'Liberation Serif',serif">7</div>
<div class="t" style="left:271.25px;width:28.03px;text-align:center;top:336.7px;font-size:6.3px;color:#f0504f"><i>节</i></div>
<div class="t" style="left:299.28px;width:28.03px;text-align:center;top:326.2px;font-size:8.2px;color:#333;-webkit-text-stroke:0;font-family:'Liberation Serif',serif">8</div>
<div class="t" style="left:299.28px;width:28.03px;text-align:center;top:336.7px;font-size:6.3px;color:#f0504f"><i>节</i></div>
<div class="t" style="left:131.10px;width:28.03px;text-align:center;top:350.2px;font-size:8.2px;color:#333;-webkit-text-stroke:0;font-family:'Liberation Serif',serif">9</div>
<div class="t" style="left:131.10px;width:28.03px;text-align:center;top:360.7px;font-size:6.3px;color:#f0504f"><i>节</i></div>
<div class="t" style="left:159.13px;width:28.03px;text-align:center;top:350.2px;font-size:8.2px;color:#333;-webkit-text-stroke:0;font-family:'Liberation Serif',serif">10</div>
<div class="t" style="left:159.13px;width:28.03px;text-align:center;top:360.7px;font-size:6.3px;color:#333"><i>班</i></div>
<div class="t" style="left:187.16px;width:28.03px;text-align:center;top:350.2px;font-size:8.2px;color:#333;-webkit-text-stroke:0;font-family:'Liberation Serif',serif">11</div>
<div class="t" style="left:187.16px;width:28.03px;text-align:center;top:360.7px;font-size:6.3px;color:#333"><i>班</i></div>
<div class="t" style="left:215.19px;width:28.03px;text-align:center;top:350.2px;font-size:8.2px;color:#333;-webkit-text-stroke:0;font-family:'Liberation Serif',serif">12</div>
<div class="t" style="left:215.19px;width:28.03px;text-align:center;top:360.7px;font-size:6.3px;color:#333"><i>班</i></div>
<div class="t" style="left:243.22px;width:28.03px;text-align:center;top:350.2px;font-size:8.2px;color:#333;-webkit-text-stroke:0;font-family:'Liberation Serif',serif">13</div>
<div class="t" style="left:243.22px;width:28.03px;text-align:center;top:360.7px;font-size:6.3px;color:#333"><i>班</i></div>
<div class="t" style="left:271.25px;width:28.03px;text-align:center;top:350.2px;font-size:8.2px;color:#333;-webkit-text-stroke:0;font-family:'Liberation Serif',serif">14</div>
<div class="t" style="left:271.25px;width:28.03px;text-align:center;top:360.7px;font-size:6.3px;color:#333"><i>班</i></div>
<div class="t" style="left:299.28px;width:28.03px;text-align:center;top:350.2px;font-size:8.2px;color:#333;-webkit-text-stroke:0;font-family:'Liberation Serif',serif">15</div>
<div class="t" style="left:299.28px;width:28.03px;text-align:center;top:360.7px;font-size:6.3px;color:#1dbf84"><i>休</i></div>
<div class="t" style="left:131.10px;width:28.03px;text-align:center;top:374.2px;font-size:8.2px;color:#333;-webkit-text-stroke:0;font-family:'Liberation Serif',serif">16</div>
<div class="t" style="left:131.10px;width:28.03px;text-align:center;top:384.7px;font-size:6.3px;color:#1dbf84"><i>休</i></div>
<div class="t" style="left:159.13px;width:28.03px;text-align:center;top:374.2px;font-size:8.2px;color:#333;-webkit-text-stroke:0;font-family:'Liberation Serif',serif">17</div>
<div class="t" style="left:159.13px;width:28.03px;text-align:center;top:384.7px;font-size:6.3px;color:#333"><i>班</i></div>
<div class="t" style="left:187.16px;width:28.03px;text-align:center;top:374.2px;font-size:8.2px;color:#333;-webkit-text-stroke:0;font-family:'Liberation Serif',serif">18</div>
<div class="t" style="left:187.16px;width:28.03px;text-align:center;top:384.7px;font-size:6.3px;color:#333"><i>班</i></div>
<div class="t" style="left:215.19px;width:28.03px;text-align:center;top:374.2px;font-size:8.2px;color:#333;-webkit-text-stroke:0;font-family:'Liberation Serif',serif">19</div>
<div class="t" style="left:215.19px;width:28.03px;text-align:center;top:384.7px;font-size:6.3px;color:#333"><i>班</i></div>
<div class="t" style="left:243.22px;width:28.03px;text-align:center;top:374.2px;font-size:8.2px;color:#333;-webkit-text-stroke:0;font-family:'Liberation Serif',serif">20</div>
<div class="t" style="left:243.22px;width:28.03px;text-align:center;top:384.7px;font-size:6.3px;color:#333"><i>班</i></div>
<div class="t" style="left:271.25px;width:28.03px;text-align:center;top:374.2px;font-size:8.2px;color:#333;-webkit-text-stroke:0;font-family:'Liberation Serif',serif">21</div>
<div class="t" style="left:271.25px;width:28.03px;text-align:center;top:384.7px;font-size:6.3px;color:#333"><i>班</i></div>
<div class="t" style="left:299.28px;width:28.03px;text-align:center;top:374.2px;font-size:8.2px;color:#333;-webkit-text-stroke:0;font-family:'Liberation Serif',serif">22</div>
<div class="t" style="left:299.28px;width:28.03px;text-align:center;top:384.7px;font-size:6.3px;color:#1dbf84"><i>休</i></div>
<div class="t" style="left:131.10px;width:28.03px;text-align:center;top:398.2px;font-size:8.2px;color:#333;-webkit-text-stroke:0;font-family:'Liberation Serif',serif">23</div>
<div class="t" style="left:131.10px;width:28.03px;text-align:center;top:408.7px;font-size:6.3px;color:#1dbf84"><i>休</i></div>
<div class="t" style="left:159.13px;width:28.03px;text-align:center;top:398.2px;font-size:8.2px;color:#333;-webkit-text-stroke:0;font-family:'Liberation Serif',serif">24</div>
<div class="t" style="left:159.13px;width:28.03px;text-align:center;top:408.7px;font-size:6.3px;color:#333"><i>班</i></div>
<div class="t" style="left:187.16px;width:28.03px;text-align:center;top:398.2px;font-size:8.2px;color:#333;-webkit-text-stroke:0;font-family:'Liberation Serif',serif">25</div>
<div class="t" style="left:187.16px;width:28.03px;text-align:center;top:408.7px;font-size:6.3px;color:#333"><i>班</i></div>
<div class="t" style="left:215.19px;width:28.03px;text-align:center;top:398.2px;font-size:8.2px;color:#333;-webkit-text-stroke:0;font-family:'Liberation Serif',serif">26</div>
<div class="t" style="left:215.19px;width:28.03px;text-align:center;top:408.7px;font-size:6.3px;color:#333"><i>班</i></div>
<div class="t" style="left:243.22px;width:28.03px;text-align:center;top:398.2px;font-size:8.2px;color:#333;-webkit-text-stroke:0;font-family:'Liberation Serif',serif">27</div>
<div class="t" style="left:243.22px;width:28.03px;text-align:center;top:408.7px;font-size:6.3px;color:#333"><i>班</i></div>
<div class="t" style="left:271.25px;width:28.03px;text-align:center;top:398.2px;font-size:8.2px;color:#333;-webkit-text-stroke:0;font-family:'Liberation Serif',serif">28</div>
<div class="t" style="left:271.25px;width:28.03px;text-align:center;top:408.7px;font-size:6.3px;color:#333"><i>班</i></div>
<div class="t" style="left:299.28px;width:28.03px;text-align:center;top:398.2px;font-size:8.2px;color:#333;-webkit-text-stroke:0;font-family:'Liberation Serif',serif">29</div>
<div class="t" style="left:299.28px;width:28.03px;text-align:center;top:408.7px;font-size:6.3px;color:#1dbf84"><i>休</i></div>
<div class="t" style="left:131.10px;width:28.03px;text-align:center;top:422.2px;font-size:8.2px;color:#333;-webkit-text-stroke:0;font-family:'Liberation Serif',serif">30</div>
<div class="t" style="left:131.10px;width:28.03px;text-align:center;top:432.7px;font-size:6.3px;color:#1dbf84"><i>休</i></div>
<div class="t" style="left:159.13px;width:28.03px;text-align:center;top:422.2px;font-size:8.2px;color:#aaa;-webkit-text-stroke:0;font-family:'Liberation Serif',serif">1</div>
<div class="t" style="left:159.13px;width:28.03px;text-align:center;top:432.7px;font-size:6.3px;color:#aaa"><i>班</i></div>
<div class="t" style="left:187.16px;width:28.03px;text-align:center;top:422.2px;font-size:8.2px;color:#aaa;-webkit-text-stroke:0;font-family:'Liberation Serif',serif">2</div>
<div class="t" style="left:187.16px;width:28.03px;text-align:center;top:432.7px;font-size:6.3px;color:#aaa"><i>班</i></div>
<div class="t" style="left:215.19px;width:28.03px;text-align:center;top:422.2px;font-size:8.2px;color:#aaa;-webkit-text-stroke:0;font-family:'Liberation Serif',serif">3</div>
<div class="t" style="left:215.19px;width:28.03px;text-align:center;top:432.7px;font-size:6.3px;color:#aaa"><i>班</i></div>
<div class="t" style="left:243.22px;width:28.03px;text-align:center;top:422.2px;font-size:8.2px;color:#aaa;-webkit-text-stroke:0;font-family:'Liberation Serif',serif">4</div>
<div class="t" style="left:243.22px;width:28.03px;text-align:center;top:432.7px;font-size:6.3px;color:#aaa"><i>班</i></div>
<div class="t" style="left:271.25px;width:28.03px;text-align:center;top:422.2px;font-size:8.2px;color:#aaa;-webkit-text-stroke:0;font-family:'Liberation Serif',serif">5</div>
<div class="t" style="left:271.25px;width:28.03px;text-align:center;top:432.7px;font-size:6.3px;color:#aaa"><i>班</i></div>
<div class="t" style="left:299.28px;width:28.03px;text-align:center;top:422.2px;font-size:8.2px;color:#aaa;-webkit-text-stroke:0;font-family:'Liberation Serif',serif">6</div>
<div class="t" style="left:299.28px;width:28.03px;text-align:center;top:432.7px;font-size:6.3px;color:#aaa"><i>休</i></div>
<div class="t" style="left:363.2px;top:285.5px;font-size:7.8px;color:#2a78c2;font-weight:bold;-webkit-text-stroke:0"><i>面</i><i>试</i><i>通</i><i>知</i><i>办</i><i>理</i></div>
<div class="t" style="left:363.2px;top:297.9px;font-size:6.25px;color:#a0a0a0"><i>送</i><i>审</i><i>人</i><i>：</i><span style="color:#222"><i>管</i><i>理</i><i>员</i></span></div>
<div class="t" style="left:453.8px;top:297.9px;font-size:6.25px;color:#a0a0a0"><i>提</i><i>交</i><i>时</i><i>间</i><i>：</i></div>
<div class="t" style="left:484.9px;top:298.8px;font-size:6.6px;letter-spacing:0.1px;font-family:Liberation Serif,serif;-webkit-text-stroke:0;color:#222">2019-06-26</div><div class="t" style="left:522.3px;top:298.8px;font-size:6.6px;letter-spacing:0.1px;font-family:Liberation Serif,serif;-webkit-text-stroke:0;color:#222">16:30:18</div>
<div class="a" style="left:639.5px;top:291.3px;width:4px;height:4px;border-top:1px solid #aaa;border-right:1px solid #aaa;transform:rotate(45deg)"></div>
<div class="a" style="left:360px;top:315.6px;width:287px;height:1px;background:repeating-linear-gradient(90deg,#e6e6e6 0 1.5px,transparent 1.5px 2.7px)"></div>
<div class="t" style="left:363.2px;top:329.3px;font-size:7.8px;color:#2a78c2;font-weight:bold;-webkit-text-stroke:0"><i>待</i><i>入</i><i>职</i><i>人</i><i>员</i><i>面</i><i>试</i><i>安</i><i>排</i></div>
<div class="t" style="left:363.2px;top:341.7px;font-size:6.25px;color:#a0a0a0"><i>送</i><i>审</i><i>人</i><i>：</i><span style="color:#222"><i>管</i><i>理</i><i>员</i></span></div>
<div class="t" style="left:453.8px;top:341.7px;font-size:6.25px;color:#a0a0a0"><i>提</i><i>交</i><i>时</i><i>间</i><i>：</i></div>
<div class="t" style="left:484.9px;top:342.6px;font-size:6.6px;letter-spacing:0.1px;font-family:Liberation Serif,serif;-webkit-text-stroke:0;color:#222">2019-06-26</div><div class="t" style="left:522.3px;top:342.6px;font-size:6.6px;letter-spacing:0.1px;font-family:Liberation Serif,serif;-webkit-text-stroke:0;color:#222">16:30:18</div>
<div class="a" style="left:639.5px;top:335.1px;width:4px;height:4px;border-top:1px solid #aaa;border-right:1px solid #aaa;transform:rotate(45deg)"></div>
<div class="a" style="left:360px;top:359.4px;width:287px;height:1px;background:repeating-linear-gradient(90deg,#e6e6e6 0 1.5px,transparent 1.5px 2.7px)"></div>
<div class="t" style="left:363.2px;top:373.1px;font-size:7.8px;color:#2a78c2;font-weight:bold;-webkit-text-stroke:0"><i>待</i><i>面</i><i>试</i><i>人</i><i>员</i><i>面</i><i>试</i><i>安</i><i>排</i></div>
<div class="t" style="left:363.2px;top:385.5px;font-size:6.25px;color:#a0a0a0"><i>送</i><i>审</i><i>人</i><i>：</i><span style="color:#222"><i>管</i><i>理</i><i>员</i></span></div>
<div class="t" style="left:453.8px;top:385.5px;font-size:6.25px;color:#a0a0a0"><i>提</i><i>交</i><i>时</i><i>间</i><i>：</i></div>
<div class="t" style="left:484.9px;top:386.4px;font-size:6.6px;letter-spacing:0.1px;font-family:Liberation Serif,serif;-webkit-text-stroke:0;color:#222">2019-06-26</div><div class="t" style="left:522.3px;top:386.4px;font-size:6.6px;letter-spacing:0.1px;font-family:Liberation Serif,serif;-webkit-text-stroke:0;color:#222">16:30:18</div>
<div class="a" style="left:639.5px;top:378.9px;width:4px;height:4px;border-top:1px solid #aaa;border-right:1px solid #aaa;transform:rotate(45deg)"></div>
<div class="a" style="left:360px;top:403.2px;width:287px;height:1px;background:repeating-linear-gradient(90deg,#e6e6e6 0 1.5px,transparent 1.5px 2.7px)"></div>
<div class="t" style="left:363.2px;top:416.9px;font-size:7.8px;color:#2a78c2;font-weight:bold;-webkit-text-stroke:0"><i>面</i><i>试</i><i>通</i><i>知</i><i>办</i><i>理</i></div>
<div class="t" style="left:363.2px;top:429.3px;font-size:6.25px;color:#a0a0a0"><i>送</i><i>审</i><i>人</i><i>：</i><span style="color:#222"><i>管</i><i>理</i><i>员</i></span></div>
<div class="t" style="left:453.8px;top:429.3px;font-size:6.25px;color:#a0a0a0"><i>提</i><i>交</i><i>时</i><i>间</i><i>：</i></div>
<div class="t" style="left:484.9px;top:430.2px;font-size:6.6px;letter-spacing:0.1px;font-family:Liberation Serif,serif;-webkit-text-stroke:0;color:#222">2019-06-26</div><div class="t" style="left:522.3px;top:430.2px;font-size:6.6px;letter-spacing:0.1px;font-family:Liberation Serif,serif;-webkit-text-stroke:0;color:#222">16:30:18</div>
<div class="a" style="left:639.5px;top:422.7px;width:4px;height:4px;border-top:1px solid #aaa;border-right:1px solid #aaa;transform:rotate(45deg)"></div>
<div class="a" style="left:712.0px;top:297.6px;width:36.4px;height:36.4px;border-radius:50%;background:#2a76bf"></div>
<svg class="a" style="left:712.0px;top:297.6px" width="36.4" height="36.4" viewBox="0 0 36.4 36.4"><path d="M11.8 6.9 L25.9 6.9 L25.9 27.9 L8.8 27.9 L8.8 9.9 Z" fill="#fff"/><path d="M8.8 9.9 L11.8 9.9 L11.8 6.9 Z" fill="#e3ebf4"/><path d="M11.5 12.5h11M11.5 15.5h11M11.5 18.5h7" stroke="#dde7f2" stroke-width=".5"/><circle cx="14.5" cy="20.6" r="1.6" fill="#f0464f"/><path d="M11.6 25.2 Q14.5 21.4 17.4 25.2Z" fill="#f0464f"/><path d="M18.8 27.2 L26.4 19.6 L28.6 21.8 L21 29.4 Z" fill="#17c06f"/><path d="M26.4 19.6 L27.4 18.6 L29.6 20.8 L28.6 21.8Z" fill="#f6a3a3"/><path d="M18.8 27.2 L21 29.4 L18.2 30Z" fill="#f7d7a8"/></svg>
<div class="t" style="left:700.8px;width:60px;text-align:center;top:341.3px;font-size:7.3px;color:#444"><i>部</i><i>门</i><i>用</i><i>人</i><i>申</i><i>请</i></div>
<div class="a" style="left:807.6px;top:297.6px;width:36.4px;height:36.4px;border-radius:50%;background:#2a76bf"></div>
<svg class="a" style="left:807.6px;top:297.6px" width="36.4" height="36.4" viewBox="0 0 36.4 36.4"><path d="M10.5 7.2 L25.5 7.2 L25.5 29.1 L7.5 29.1 L7.5 10.2 Z" fill="#fff"/><path d="M7.5 10.2 L10.5 10.2 L10.5 7.2 Z" fill="#e3ebf4"/><path d="M10 18.6 Q12 19 13 17.6 Q14.6 15 16 19 Q17.2 15.2 18.6 18.6 Q20 15.8 21.2 18.2 L23 18.4" fill="none" stroke="#f0504f" stroke-width=".7"/><circle cx="18" cy="17.8" r="4.3" fill="none" stroke="#25d1a3" stroke-width="1.4"/><path d="M21.4 21.2 L27.6 26.8" stroke="#2a4658" stroke-width="2.4" stroke-linecap="round"/></svg>
<div class="t" style="left:798.4px;width:60px;text-align:center;top:341.3px;font-size:7.3px;color:#444"><i>团</i><i>队</i><i>人</i><i>才</i><i>评</i><i>估</i></div>
<div class="a" style="left:911.0px;top:297.6px;width:36.4px;height:36.4px;border-radius:50%;background:#2a76bf"></div>
<svg class="a" style="left:911.0px;top:297.6px" width="36.4" height="36.4" viewBox="0 0 36.4 36.4"><circle cx="9.2" cy="13.2" r="1.7" fill="#f7b15a"/><circle cx="27.5" cy="13.2" r="1.7" fill="#f7b15a"/><path d="M7.7 15.6 L9.7 15.6 L10.2 20 L12.5 20.6 L12.6 24.8 L11.4 24.8 L11.3 21.7 L8.6 21.5 Z" fill="#fff"/><path d="M29 15.6 L27 15.6 L26.5 20 L24.2 20.6 L24.1 24.8 L25.3 24.8 L25.4 21.7 L28.1 21.5 Z" fill="#fff"/><path d="M13.5 17.4 H23.2 V18.6 H19 V25.6 H17.7 V18.6 H13.5Z" fill="#f04f3a"/></svg>
<div class="t" style="left:897.3px;width:60px;text-align:center;top:341.3px;font-size:7.3px;color:#444"><i>团</i><i>队</i><i>面</i><i>试</i><i>评</i><i>审</i></div>
<div class="a" style="left:984.1px;top:271px;width:3.6px;height:177.6px;background:#ececec"></div>
<div class="a" style="left:984.1px;top:271px;width:3.6px;height:30px;background:#c6c6c6"></div>
<div class="t" style="left:139.2px;width:60px;text-align:center;top:537.6px;font-size:6.2px;color:#444"><i>招</i><i>聘</i><i>费</i><i>用</i><i>统</i><i>计</i></div>
<div class="t" style="left:223.0px;width:60px;text-align:center;top:537.6px;font-size:6.2px;color:#444"><i>招</i><i>聘</i><i>达</i><i>成</i><i>率</i></div>
<div class="t" style="left:304.0px;width:60px;text-align:center;top:537.6px;font-size:6.2px;color:#444"><i>员</i><i>工</i><i>适</i><i>岗</i><i>率</i></div>
<div class="t" style="left:386.3px;width:60px;text-align:center;top:537.6px;font-size:6.2px;color:#444"><i>在</i><i>缺</i><i>编</i><i>用</i><i>人</i></div>
<div class="t" style="left:386.3px;width:60px;text-align:center;top:547.4px;font-size:6.2px;color:#444"><i>统</i><i>计</i></div>
<div class="t" style="left:468.6px;width:60px;text-align:center;top:537.6px;font-size:6.2px;color:#444"><i>招</i><i>聘</i><i>留</i><i>人</i><i>率</i></div>
<div class="t" style="left:468.6px;width:60px;text-align:center;top:547.4px;font-size:6.2px;color:#444"><i>统</i><i>计</i></div>
<div class="t" style="left:140.6px;width:60px;text-align:center;top:611.0px;font-size:6.2px;color:#444"><i>部</i><i>门</i><i>人</i><i>员</i></div>
<div class="t" style="left:140.6px;width:60px;text-align:center;top:620.8px;font-size:6.2px;color:#444"><i>异</i><i>动</i><i>率</i></div>
<div class="t" style="left:223.0px;width:60px;text-align:center;top:611.0px;font-size:6.2px;color:#444"><i>部</i><i>门</i><i>人</i><i>员</i></div>
<div class="t" style="left:223.0px;width:60px;text-align:center;top:620.8px;font-size:6.2px;color:#444"><i>离</i><i>职</i><i>率</i></div>
<svg class="a" style="left:0;top:0" width="1000" height="734" viewBox="0 0 1000 734"><defs><pattern id="gr" width="2.4" height="2.4" patternUnits="userSpaceOnUse"><path d="M2.4 0V2.4H0" fill="none" stroke="#f0f0f0" stroke-width=".5"/></pattern></defs><rect x="154.7" y="504.8" width="32.900000000000006" height="23.400000000000034" fill="url(#gr)"/><path d="M154.7 504.8V528.2H187.6" fill="none" stroke="#9a9a9a" stroke-width=".8"/><circle cx="154.7" cy="504.8" r=".6" fill="#666"/><circle cx="187.6" cy="528.2" r=".6" fill="#666"/><rect x="156.2" y="519" width="4" height="8.8" fill="#5b8ff9"/><rect x="162.4" y="516" width="4" height="11.8" fill="#f7a829"/><rect x="168.7" y="513.2" width="4" height="14.6" fill="#f5504f"/><rect x="175" y="510.4" width="4" height="17.4" fill="#1cc47f"/><rect x="181.3" y="507.6" width="4" height="20.2" fill="#bdbdbd"/><rect x="237.3" y="504" width="31.5" height="24" fill="url(#gr)"/><path d="M259.18 513.15A6.9 6.9 0 0 1 252.60 523.47" fill="none" stroke="#f7a829" stroke-width="2.8"/><path d="M252.60 523.47A6.9 6.9 0 0 1 246.72 514.24" fill="none" stroke="#f5504f" stroke-width="2.8"/><path d="M246.72 514.24A6.9 6.9 0 0 1 252.24 509.77" fill="none" stroke="#3d9cf0" stroke-width="2.8"/><path d="M255.30 508.40A6.9 6.9 0 0 1 259.39 510.76" fill="none" stroke="#1cc47f" stroke-width="2.8"/><rect x="318.7" y="504.8" width="32.900000000000034" height="23.400000000000034" fill="url(#gr)"/><path d="M318.7 504.8V528.2H351.6" fill="none" stroke="#9a9a9a" stroke-width=".8"/><circle cx="318.7" cy="504.8" r=".6" fill="#666"/><circle cx="351.6" cy="528.2" r=".6" fill="#666"/><rect x="319.2" y="508.25" width="11.4" height="1.5" fill="#f7a829"/><rect x="319.2" y="511.45000000000005" width="30.3" height="1.5" fill="#1cc47f"/><rect x="319.2" y="514.55" width="23.6" height="1.5" fill="#4a4a4a"/><rect x="319.2" y="517.65" width="17.3" height="1.5" fill="#f7a829"/><rect x="319.2" y="520.55" width="20.8" height="1.5" fill="#1cc47f"/><rect x="319.2" y="523.95" width="11.7" height="1.5" fill="#c4c4c4"/><rect x="400.7" y="504.8" width="32.5" height="23.400000000000034" fill="url(#gr)"/><path d="M400.7 504.8V528.2H433.2" fill="none" stroke="#9a9a9a" stroke-width=".8"/><circle cx="400.7" cy="504.8" r=".6" fill="#666"/><circle cx="433.2" cy="528.2" r=".6" fill="#666"/><path d="M407.8 508.6 Q415 510 421.4 509.6 L426.4 518.2 Q420 519.5 414.8 523.4 L409.4 524.6 Q409 520 406.2 518 Q408.2 513.5 407.8 508.6 Z" fill="#66b8f2"/><rect x="483" y="504" width="31.5" height="24" fill="url(#gr)"/><path d="M491.36 515.63A7.6 7.6 0 0 1 501.30 510.46" fill="none" stroke="#f5504f" stroke-width="1.6"/><path d="M492.12 521.40A7.6 7.6 0 0 1 491.36 515.63" fill="none" stroke="#9a9a9a" stroke-width="1.6"/><path d="M496.73 524.94A7.6 7.6 0 0 1 492.12 521.40" fill="none" stroke="#3d9cf0" stroke-width="1.6"/><path d="M504.93 521.96A7.6 7.6 0 0 1 496.73 524.94" fill="none" stroke="#1cc47f" stroke-width="1.6"/><path d="M506.30 517.60A7.6 7.6 0 0 1 504.93 521.96" fill="none" stroke="#8f9ff0" stroke-width="1.6"/><path d="M505.84 515.00A7.6 7.6 0 0 1 506.30 517.60" fill="none" stroke="#d9d9d9" stroke-width="1.6"/><path d="M501.64 509.59A7.8999999999999995 7.8999999999999995 0 0 1 506.52 514.14" fill="none" stroke="#f7a829" stroke-width="2.6"/><rect x="153.6" y="579.1" width="32.599999999999994" height="23.100000000000023" fill="url(#gr)"/><path d="M153.6 579.1V602.2H186.2" fill="none" stroke="#9a9a9a" stroke-width=".8"/><circle cx="153.6" cy="579.1" r=".6" fill="#666"/><circle cx="186.2" cy="602.2" r=".6" fill="#666"/><path d="M156.1 592.4 L163.1 587.5 L171.9 595.2 L177.8 586.1 L181.3 585.2" fill="none" stroke="#1e9be0" stroke-width="1.3"/><path d="M156.1 595.9 L160.3 592.4 L166.6 597.3 L173.6 589.6 L181.3 582.3" fill="none" stroke="#1ec98c" stroke-width="1.3"/><rect x="236.4" y="579.1" width="32.20000000000002" height="22.799999999999955" fill="url(#gr)"/><path d="M236.4 579.1V601.9H268.6" fill="none" stroke="#9a9a9a" stroke-width=".8"/><circle cx="236.4" cy="579.1" r=".6" fill="#666"/><circle cx="268.6" cy="601.9" r=".6" fill="#666"/><rect x="237.3" y="588.8" width="1.6" height="12.7" fill="#5ab1ef"/><rect x="239.3" y="583" width="1.6" height="18.5" fill="#f5b849"/><rect x="241.3" y="586.8" width="1.6" height="14.7" fill="#5ab1ef"/><rect x="243.3" y="580.5" width="1.6" height="21.0" fill="#5ab1ef"/><rect x="245.3" y="591" width="1.6" height="10.5" fill="#f5b849"/><rect x="247.3" y="593.2" width="1.6" height="8.3" fill="#5ab1ef"/><rect x="249.3" y="585.6" width="1.6" height="15.9" fill="#5ab1ef"/><rect x="251.3" y="589.2" width="1.6" height="12.3" fill="#f5b849"/><rect x="253.3" y="583.6" width="1.6" height="17.9" fill="#5ab1ef"/><rect x="255.3" y="584.6" width="1.6" height="16.9" fill="#5ab1ef"/><rect x="257.3" y="582.8" width="1.6" height="18.7" fill="#f5b849"/><rect x="259.3" y="587" width="1.6" height="14.5" fill="#5ab1ef"/><rect x="261.3" y="587.8" width="1.6" height="13.7" fill="#5ab1ef"/><rect x="263.3" y="580.8" width="1.6" height="20.7" fill="#f5b849"/><rect x="265.3" y="590.6" width="1.6" height="10.9" fill="#5ab1ef"/></svg>
<div class="a" style="left:546.6px;top:483.8px;width:3px;height:240.4px;background:#ececec"></div>
<div class="a" style="left:546.6px;top:483.8px;width:3px;height:42px;background:#c6c6c6"></div>
<div class="t" style="left:581.4px;top:496.3px;font-size:7.9px;color:#2a78c2;font-weight:bold;-webkit-text-stroke:0"><i>用</i><i>人</i><i>需</i><i>求</i><i>申</i><i>请</i></div>
<div class="t" style="left:581.4px;top:509.5px;font-size:6.25px;color:#a0a0a0"><i>提</i><i>交</i><i>时</i><i>间</i><i>：</i></div>
<div class="t" style="left:612.2px;top:510.4px;font-size:6.6px;letter-spacing:0.1px;font-family:Liberation Serif,serif;-webkit-text-stroke:0;color:#222">2019-06-26</div><div class="t" style="left:649.6px;top:510.4px;font-size:6.6px;letter-spacing:0.1px;font-family:Liberation Serif,serif;-webkit-text-stroke:0;color:#222">16:30:18</div>
<div class="t" style="left:715px;top:509.5px;font-size:6.25px;color:#a0a0a0"><i>审</i><i>批</i><i>人</i><i>：</i><span style="color:#222"><i>罗</i><i>密</i><i>欧</i></span></div>
<div class="t" style="left:941.6px;top:500.9px;font-size:7.9px;color:#1cbf7f;font-weight:bold;-webkit-text-stroke:0"><i>待</i><i>审</i><i>批</i></div>
<div class="a" style="left:578.4px;top:524.5px;width:387px;height:1px;background:repeating-linear-gradient(90deg,#e6e6e6 0 1.5px,transparent 1.5px 2.7px)"></div>
<div class="t" style="left:581.4px;top:535.2px;font-size:7.9px;color:#2a78c2;font-weight:bold;-webkit-text-stroke:0"><i>招</i><i>聘</i><i>场</i><i>地</i><i>申</i><i>请</i></div>
<div class="t" style="left:581.4px;top:548.4px;font-size:6.25px;color:#a0a0a0"><i>提</i><i>交</i><i>时</i><i>间</i><i>：</i></div>
<div class="t" style="left:612.2px;top:549.3px;font-size:6.6px;letter-spacing:0.1px;font-family:Liberation Serif,serif;-webkit-text-stroke:0;color:#222">2019-06-26</div><div class="t" style="left:649.6px;top:549.3px;font-size:6.6px;letter-spacing:0.1px;font-family:Liberation Serif,serif;-webkit-text-stroke:0;color:#222">16:30:18</div>
<div class="t" style="left:715px;top:548.4px;font-size:6.25px;color:#a0a0a0"><i>审</i><i>批</i><i>人</i><i>：</i><span style="color:#222"><i>罗</i><i>密</i><i>欧</i></span></div>
<div class="t" style="left:941.6px;top:539.8px;font-size:7.9px;color:#1cbf7f;font-weight:bold;-webkit-text-stroke:0"><i>待</i><i>审</i><i>批</i></div>
<div class="a" style="left:578.4px;top:563.4px;width:387px;height:1px;background:repeating-linear-gradient(90deg,#e6e6e6 0 1.5px,transparent 1.5px 2.7px)"></div>
<div class="t" style="left:581.4px;top:574.1px;font-size:7.9px;color:#2a78c2;font-weight:bold;-webkit-text-stroke:0"><i>面</i><i>试</i><i>测</i><i>评</i><i>场</i><i>地</i><i>申</i><i>请</i></div>
<div class="t" style="left:581.4px;top:587.3px;font-size:6.25px;color:#a0a0a0"><i>提</i><i>交</i><i>时</i><i>间</i><i>：</i></div>
<div class="t" style="left:612.2px;top:588.2px;font-size:6.6px;letter-spacing:0.1px;font-family:Liberation Serif,serif;-webkit-text-stroke:0;color:#222">2019-06-26</div><div class="t" style="left:649.6px;top:588.2px;font-size:6.6px;letter-spacing:0.1px;font-family:Liberation Serif,serif;-webkit-text-stroke:0;color:#222">16:30:18</div>
<div class="t" style="left:715px;top:587.3px;font-size:6.25px;color:#a0a0a0"><i>审</i><i>批</i><i>人</i><i>：</i><span style="color:#222"><i>罗</i><i>密</i><i>欧</i></span></div>
<div class="t" style="left:802.9px;top:587.3px;font-size:6.25px;color:#a0a0a0"><i>审</i><i>批</i><i>时</i><i>间</i><i>：</i></div>
<div class="t" style="left:834.3px;top:588.2px;font-size:6.6px;letter-spacing:0.1px;font-family:Liberation Serif,serif;-webkit-text-stroke:0;color:#222">2019-06-28</div><div class="t" style="left:871.7px;top:588.2px;font-size:6.6px;letter-spacing:0.1px;font-family:Liberation Serif,serif;-webkit-text-stroke:0;color:#222">10:30:00</div>
<div class="t" style="left:941.6px;top:578.7px;font-size:7.9px;color:#f5a623;font-weight:bold;-webkit-text-stroke:0"><i>已</i><i>审</i><i>批</i></div>
<div class="a" style="left:578.4px;top:602.3px;width:387px;height:1px;background:repeating-linear-gradient(90deg,#e6e6e6 0 1.5px,transparent 1.5px 2.7px)"></div>
<div class="t" style="left:581.4px;top:613.0px;font-size:7.9px;color:#2a78c2;font-weight:bold;-webkit-text-stroke:0"><i>用</i><i>人</i><i>需</i><i>求</i><i>申</i><i>请</i></div>
<div class="t" style="left:581.4px;top:626.2px;font-size:6.25px;color:#a0a0a0"><i>提</i><i>交</i><i>时</i><i>间</i><i>：</i></div>
<div class="t" style="left:612.2px;top:627.1px;font-size:6.6px;letter-spacing:0.1px;font-family:Liberation Serif,serif;-webkit-text-stroke:0;color:#222">2019-06-26</div><div class="t" style="left:649.6px;top:627.1px;font-size:6.6px;letter-spacing:0.1px;font-family:Liberation Serif,serif;-webkit-text-stroke:0;color:#222">16:30:18</div>
<div class="t" style="left:715px;top:626.2px;font-size:6.25px;color:#a0a0a0"><i>审</i><i>批</i><i>人</i><i>：</i><span style="color:#222"><i>罗</i><i>密</i><i>欧</i></span></div>
<div class="t" style="left:802.9px;top:626.2px;font-size:6.25px;color:#a0a0a0"><i>审</i><i>批</i><i>时</i><i>间</i><i>：</i></div>
<div class="t" style="left:834.3px;top:627.1px;font-size:6.6px;letter-spacing:0.1px;font-family:Liberation Serif,serif;-webkit-text-stroke:0;color:#222">2019-06-28</div><div class="t" style="left:871.7px;top:627.1px;font-size:6.6px;letter-spacing:0.1px;font-family:Liberation Serif,serif;-webkit-text-stroke:0;color:#222">10:30:00</div>
<div class="t" style="left:941.6px;top:617.6px;font-size:7.9px;color:#f5a623;font-weight:bold;-webkit-text-stroke:0"><i>已</i><i>审</i><i>批</i></div>
<div class="a" style="left:578.4px;top:641.2px;width:387px;height:1px;background:repeating-linear-gradient(90deg,#e6e6e6 0 1.5px,transparent 1.5px 2.7px)"></div>
<div class="t" style="left:581.4px;top:651.9px;font-size:7.9px;color:#2a78c2;font-weight:bold;-webkit-text-stroke:0"><i>招</i><i>聘</i><i>场</i><i>地</i><i>申</i><i>请</i></div>
<div class="t" style="left:581.4px;top:665.1px;font-size:6.25px;color:#a0a0a0"><i>提</i><i>交</i><i>时</i><i>间</i><i>：</i></div>
<div class="t" style="left:612.2px;top:666.0px;font-size:6.6px;letter-spacing:0.1px;font-family:Liberation Serif,serif;-webkit-text-stroke:0;color:#222">2019-06-26</div><div class="t" style="left:649.6px;top:666.0px;font-size:6.6px;letter-spacing:0.1px;font-family:Liberation Serif,serif;-webkit-text-stroke:0;color:#222">16:30:18</div>
<div class="t" style="left:715px;top:665.1px;font-size:6.25px;color:#a0a0a0"><i>审</i><i>批</i><i>人</i><i>：</i><span style="color:#222"><i>罗</i><i>密</i><i>欧</i></span></div>
<div class="t" style="left:802.9px;top:665.1px;font-size:6.25px;color:#a0a0a0"><i>审</i><i>批</i><i>时</i><i>间</i><i>：</i></div>
<div class="t" style="left:834.3px;top:666.0px;font-size:6.6px;letter-spacing:0.1px;font-family:Liberation Serif,serif;-webkit-text-stroke:0;color:#222">2019-06-28</div><div class="t" style="left:871.7px;top:666.0px;font-size:6.6px;letter-spacing:0.1px;font-family:Liberation Serif,serif;-webkit-text-stroke:0;color:#222">10:30:00</div>
<div class="t" style="left:941.6px;top:656.5px;font-size:7.9px;color:#f0504f;font-weight:bold;-webkit-text-stroke:0"><i>已</i><i>完</i><i>成</i></div>
<div class="a" style="left:578.4px;top:680.1px;width:387px;height:1px;background:repeating-linear-gradient(90deg,#e6e6e6 0 1.5px,transparent 1.5px 2.7px)"></div>
<div class="t" style="left:581.4px;top:690.8px;font-size:7.9px;color:#2a78c2;font-weight:bold;-webkit-text-stroke:0"><i>面</i><i>试</i><i>测</i><i>评</i><i>场</i><i>地</i><i>申</i><i>请</i></div>
<div class="t" style="left:581.4px;top:704.0px;font-size:6.25px;color:#a0a0a0"><i>提</i><i>交</i><i>时</i><i>间</i><i>：</i></div>
<div class="t" style="left:612.2px;top:704.9px;font-size:6.6px;letter-spacing:0.1px;font-family:Liberation Serif,serif;-webkit-text-stroke:0;color:#222">2019-06-26</div><div class="t" style="left:649.6px;top:704.9px;font-size:6.6px;letter-spacing:0.1px;font-family:Liberation Serif,serif;-webkit-text-stroke:0;color:#222">16:30:18</div>
<div class="t" style="left:715px;top:704.0px;font-size:6.25px;color:#a0a0a0"><i>审</i><i>批</i><i>人</i><i>：</i><span style="color:#222"><i>罗</i><i>密</i><i>欧</i></span></div>
<div class="t" style="left:802.9px;top:704.0px;font-size:6.25px;color:#a0a0a0"><i>审</i><i>批</i><i>时</i><i>间</i><i>：</i></div>
<div class="t" style="left:834.3px;top:704.9px;font-size:6.6px;letter-spacing:0.1px;font-family:Liberation Serif,serif;-webkit-text-stroke:0;color:#222">2019-06-28</div><div class="t" style="left:871.7px;top:704.9px;font-size:6.6px;letter-spacing:0.1px;font-family:Liberation Serif,serif;-webkit-text-stroke:0;color:#222">10:30:00</div>
<div class="t" style="left:941.6px;top:695.4px;font-size:7.9px;color:#f0504f;font-weight:bold;-webkit-text-stroke:0"><i>已</i><i>完</i><i>成</i></div>
<div class="a" style="left:984.1px;top:483.8px;width:3.6px;height:240.4px;background:#ececec"></div>
<div class="a" style="left:984.1px;top:483.8px;width:3.6px;height:42px;background:#c6c6c6"></div>
<div class="a" style="left:996.4px;top:26px;width:3.6px;height:708px;background:#d8d8d8"></div>
<div class="a" style="left:996.4px;top:26px;width:3.6px;height:167.6px;background:#9c9c9c"></div>
</body></html>
